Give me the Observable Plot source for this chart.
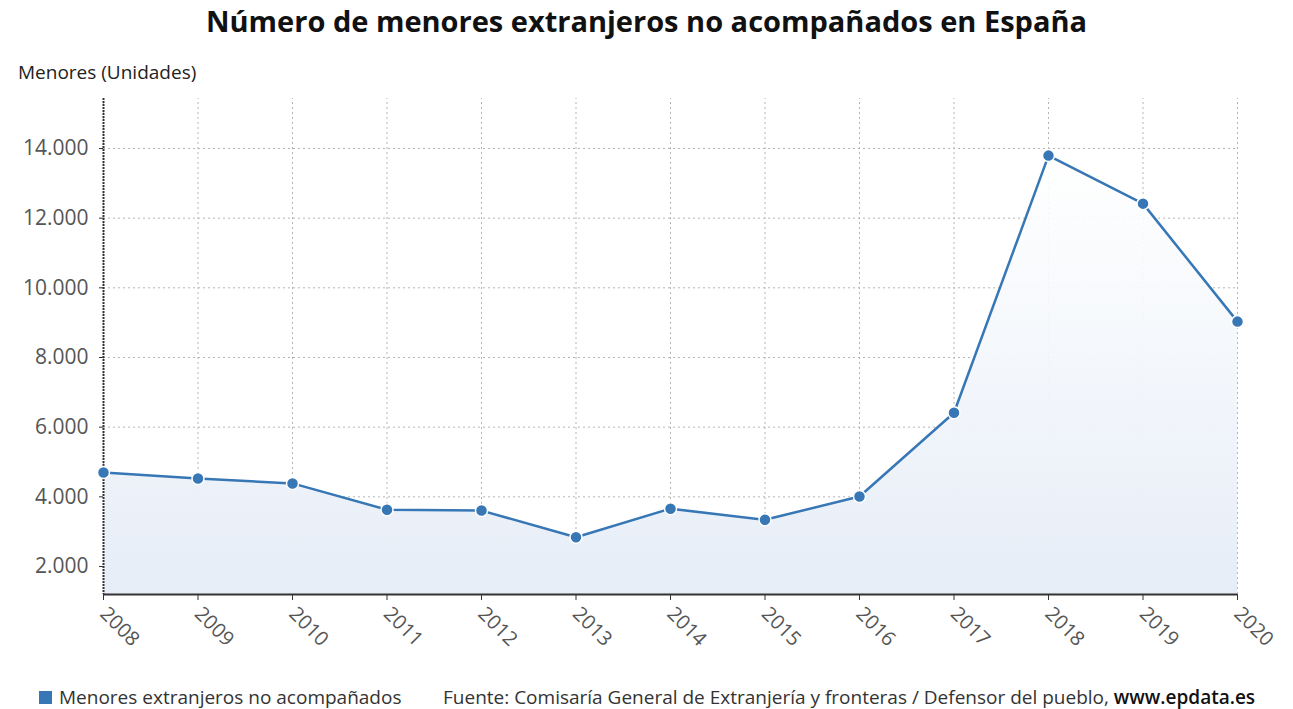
<!DOCTYPE html>
<html>
<head>
<meta charset="utf-8">
<script src="https://cdn.jsdelivr.net/npm/d3@7"></script>
<script src="https://cdn.jsdelivr.net/npm/@observablehq/plot@0.6"></script>
<style>
  html, body { margin: 0; padding: 0; background: #fff; }
  body { width: 1293px; height: 709px; position: relative; overflow: hidden; font-family: "Open Sans", "Noto Sans", sans-serif; }
  #title { position: absolute; top: 1px; left: 0; width: 1293px; text-align: center; font-size: 29px; font-weight: 700; color: #111; }
  #ylabel { position: absolute; top: 59px; left: 18px; font-size: 19px; color: #222; }
  #chart { position: absolute; top: 0; left: 0; }
  #legend { position: absolute; top: 684px; left: 39px; font-size: 19px; color: #333; white-space: nowrap; }
  #legend .sw { display: inline-block; width: 13px; height: 13px; background: #3777b5; vertical-align: 0px; margin-right: 7px; }
  #source { position: absolute; top: 684px; left: 443px; font-size: 19px; color: #333; white-space: nowrap; }
  #source b { font-weight: 600; color: #111; }
</style>
</head>
<body>
<div id="title">Número de menores extranjeros no acompañados en España</div>
<div id="ylabel">Menores (Unidades)</div>
<div id="chart"></div>
<div id="legend"><span class="sw"></span>Menores extranjeros no acompañados</div>
<div id="source">Fuente: Comisaría General de Extranjería y fronteras / Defensor del pueblo, <b>www.epdata.es</b></div>
<script>
const years = [2008, 2009, 2010, 2011, 2012, 2013, 2014, 2015, 2016, 2017, 2018, 2019, 2020];
const values = [4700, 4525, 4385, 3630, 3605, 2840, 3660, 3340, 4010, 6414, 13796, 12417, 9030];
const yTicks = [2000, 4000, 6000, 8000, 10000, 12000, 14000];

const data = years.map((y, i) => ({year: y, value: values[i]}));
const fmt = d => d3.format(",")(d).replace(/,/g, ".");
const baseY = 1196;

const plot = Plot.plot({
  width: 1293,
  height: 670,
  marginTop: 98,
  marginBottom: 76,
  marginLeft: 103,
  marginRight: 56,
  style: {fontFamily: "'Open Sans', 'Noto Sans', sans-serif", fontSize: "20px", color: "#555", background: "transparent"},
  x: {type: "linear", domain: [2008, 2020], ticks: years, tickFormat: d => String(d), label: null},
  y: {domain: [baseY, 15435], ticks: yTicks, tickFormat: fmt, label: null},
  marks: [
    Plot.gridX(years, {stroke: "#b5b5b5", strokeOpacity: 1, strokeDasharray: "2,3", y1: baseY, y2: 15435}),
    Plot.gridY(yTicks, {stroke: "#b5b5b5", strokeOpacity: 1, strokeDasharray: "2,3"}),
    Plot.areaY(data, {x: "year", y1: baseY, y2: "value", fill: "url(#areaGrad)"}),
    Plot.ruleX([2008], {stroke: "#333", strokeWidth: 2, strokeDasharray: "2,1"}),
    Plot.ruleY([baseY], {stroke: "#333", strokeWidth: 2}),
    Plot.axisX({ticks: years, tickFormat: d => String(d), tickRotate: 45, tickSize: 6, tickPadding: 10, stroke: "#333", fontSize: 20, fill: "#555", label: null}),
    Plot.axisY({ticks: yTicks, tickFormat: fmt, tickSize: 4, tickPadding: 11, stroke: "#333", fontSize: 21, fill: "#555", label: null}),
    Plot.lineY(data, {x: "year", y: "value", stroke: "#3777b5", strokeWidth: 2.5}),
    Plot.dot(data, {x: "year", y: "value", r: 6, fill: "#3777b5", stroke: "#fff", strokeWidth: 1.5})
  ]
});

const svg = d3.select(plot);
const defs = svg.insert("defs", ":first-child");
const grad = defs.append("linearGradient").attr("id", "areaGrad").attr("x1", 0).attr("y1", 0).attr("x2", 0).attr("y2", 1);
grad.append("stop").attr("offset", "0%").attr("stop-color", "#ffffff").attr("stop-opacity", 0.9);
grad.append("stop").attr("offset", "100%").attr("stop-color", "#e6edf7").attr("stop-opacity", 1);
document.getElementById("chart").appendChild(plot);
</script>
</body>
</html>
